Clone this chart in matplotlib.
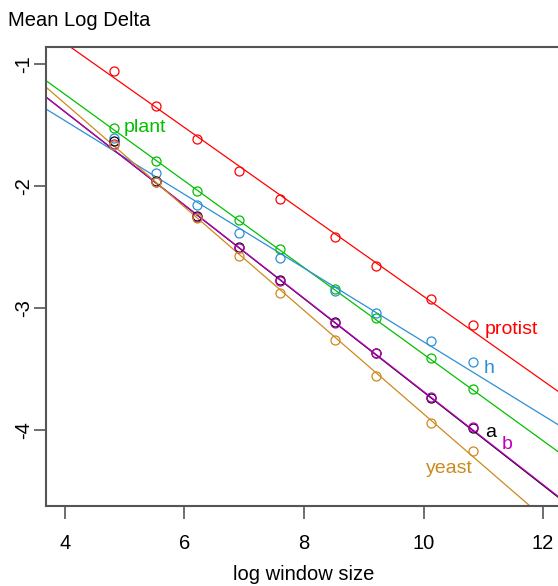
import numpy as np
import matplotlib.pyplot as plt

plt.rcParams['font.family'] = ['Liberation Sans', 'DejaVu Sans']
plt.rcParams['axes.unicode_minus'] = False

# log window size (x positions of the circles)
log_window = [4.83, 5.52, 6.21, 6.91, 7.60, 8.52, 9.21, 10.13, 10.82]

# mean log delta per group
protist = [-1.063, -1.344, -1.617, -1.879, -2.109, -2.424, -2.659, -2.929, -3.145]
plant = [-1.527, -1.795, -2.047, -2.279, -2.516, -2.847, -3.085, -3.412, -3.666]
h = [-1.609, -1.894, -2.156, -2.386, -2.593, -2.866, -3.040, -3.276, -3.448]
a = [-1.630, -1.960, -2.250, -2.505, -2.772, -3.118, -3.368, -3.738, -3.988]
b = [-1.660, -1.970, -2.260, -2.514, -2.779, -3.126, -3.371, -3.733, -3.981]
yeast = [-1.670, -1.970, -2.265, -2.579, -2.880, -3.268, -3.563, -3.945, -4.178]

names = ['protist', 'plant', 'h', 'a', 'b', 'yeast']
series = [protist, plant, h, a, b, yeast]
colors = ['#FF0000', '#00C000', '#2B8FD6', '#000000', '#C000C0', '#CD8A1D']

# fitted lines: intercept and slope
intercepts = [0.553, 0.169, -0.259, 0.137, 0.134, 0.370]
slopes = [-0.346, -0.355, -0.302, -0.3828, -0.382, -0.424]

# label positions (x, baseline y)
label_x = [11.03, 4.98, 11.00, 11.03, 11.31, 10.04]
label_y = [-3.216, -1.557, -3.533, -4.057, -4.161, -4.352]

xticks = [4, 6, 8, 10, 12]
yticks = [-1, -2, -3, -4]
ytick_labels = ['-1', '-2', '-3', '-4']

W, H = 558, 586
fig = plt.figure(figsize=(W / 100, H / 100), dpi=100)
ax = fig.add_axes([45.7 / W, (H - 506.2) / H, 516.5 / W, 459.5 / H])

for i in range(len(names)):
    ax.axline((0, intercepts[i]), slope=slopes[i], color=colors[i], lw=0.9, zorder=2 + 0.1 * i)
for i in range(len(names)):
    ax.plot(log_window, series[i], 'o', mfc='none', mec=colors[i], ms=6.5, mew=0.9, zorder=3 + 0.1 * i)
    ax.text(label_x[i], label_y[i], names[i], color=colors[i], fontsize=14, va='baseline', ha='left')

ax.set_xlim(3.68, 12.32)
ax.set_ylim(-4.627, -0.861)
ax.set_xticks(xticks)
ax.set_yticks(yticks)
ax.set_yticklabels(ytick_labels, rotation=90, va='center')

for s in ax.spines.values():
    s.set_color('#555555')
    s.set_linewidth(1.5)
ax.tick_params(colors='#555555', length=9, width=1.2, labelsize=14.5, labelcolor='black')
ax.tick_params(axis='x', pad=11)
ax.tick_params(axis='y', pad=0)

fig.text(303.9 / W, 1 - 574 / H, 'log window size', fontsize=14.5, ha='center', va='center')
fig.text(8 / W, 1 - 26 / H, 'Mean Log Delta', fontsize=14.5, ha='left', va='baseline')

fig.savefig('out.png', dpi=100)
